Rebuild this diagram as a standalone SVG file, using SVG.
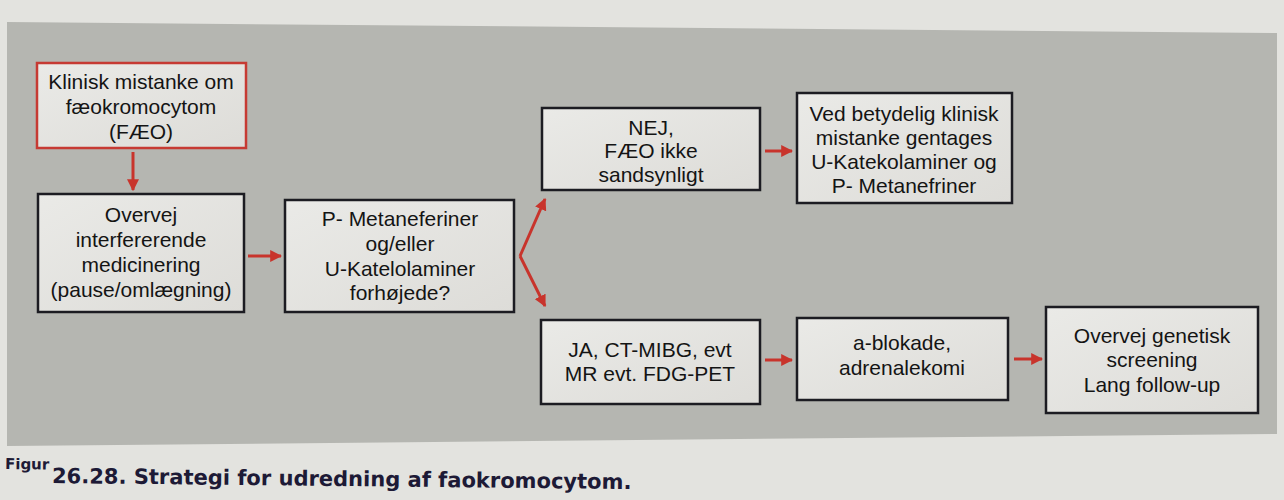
<svg xmlns="http://www.w3.org/2000/svg" width="1284" height="500" viewBox="0 0 1284 500">
<defs>
<marker id="ah" viewBox="0 0 10 10" refX="9" refY="5" markerWidth="4" markerHeight="4" orient="auto" markerUnits="strokeWidth">
<path d="M0,0 L10,5 L0,10 z" fill="#c8342c"/>
</marker>
<linearGradient id="boxfill" x1="0" y1="0" x2="1" y2="1">
<stop offset="0" stop-color="#eaeae7"/>
<stop offset="1" stop-color="#dddcd8"/>
</linearGradient>
</defs>
<style>
.box{fill:url(#boxfill);stroke:#1c1c22;stroke-width:2.5}
.rbox{fill:url(#boxfill);stroke:#c63a33;stroke-width:2.5}
.t{font-family:"Liberation Sans",Arial,sans-serif;font-size:21px;fill:#141414;text-anchor:middle}
.c{stroke:#c8342c;stroke-width:3;fill:none;marker-end:url(#ah)}
.cap{font-family:"DejaVu Sans","Liberation Sans",sans-serif;font-weight:bold;fill:#1d1a36}
</style>
<rect x="0" y="0" width="1284" height="500" fill="#e3e3df"/>
<polygon points="7,22 1277,33 1277,434 7,446" fill="#b5b6b1"/>

<g id="n1">
<rect class="rbox" x="37" y="63" width="209" height="85"/>
<text class="t" x="141" y="89">Klinisk mistanke om</text>
<text class="t" x="141" y="114">fæokromocytom</text>
<text class="t" x="141" y="139">(FÆO)</text>
</g>
<g id="n2">
<rect class="box" x="38" y="194" width="206" height="118"/>
<text class="t" x="141" y="222">Overvej</text>
<text class="t" x="141" y="247">interfererende</text>
<text class="t" x="141" y="272">medicinering</text>
<text class="t" x="141" y="297">(pause/omlægning)</text>
</g>
<g id="n3">
<rect class="box" x="285" y="200" width="229" height="112"/>
<text class="t" x="400" y="226">P- Metaneferiner</text>
<text class="t" x="400" y="251">og/eller</text>
<text class="t" x="400" y="276">U-Katelolaminer</text>
<text class="t" x="400" y="300">forhøjede?</text>
</g>
<g id="n4">
<rect class="box" x="542" y="108" width="218" height="82"/>
<text class="t" x="651" y="135">NEJ,</text>
<text class="t" x="651" y="158">FÆO ikke</text>
<text class="t" x="651" y="182">sandsynligt</text>
</g>
<g id="n5">
<rect class="box" x="797" y="93" width="215" height="110"/>
<text class="t" x="904" y="121">Ved betydelig klinisk</text>
<text class="t" x="904" y="145">mistanke gentages</text>
<text class="t" x="904" y="169">U-Katekolaminer og</text>
<text class="t" x="904" y="193">P- Metanefriner</text>
</g>
<g id="n6">
<rect class="box" x="541" y="320" width="219" height="84"/>
<text class="t" x="650" y="357">JA, CT-MIBG, evt</text>
<text class="t" x="650" y="381">MR evt. FDG-PET</text>
</g>
<g id="n7">
<rect class="box" x="797" y="318" width="211" height="82"/>
<text class="t" x="902" y="350">a-blokade,</text>
<text class="t" x="902" y="375">adrenalekomi</text>
</g>
<g id="n8">
<rect class="box" x="1046" y="307" width="212" height="106"/>
<text class="t" x="1152" y="343">Overvej genetisk</text>
<text class="t" x="1152" y="367">screening</text>
<text class="t" x="1152" y="392">Lang follow-up</text>
</g>

<g id="connectors">
<line class="c" x1="133" y1="152" x2="133" y2="190"/>
<line class="c" x1="248" y1="256" x2="281" y2="256"/>
<polyline class="c" points="520,256 545,199"/>
<polyline class="c" points="520,256 545,306"/>
<line class="c" x1="765" y1="151" x2="792" y2="151"/>
<line class="c" x1="765" y1="360" x2="792" y2="360"/>
<line class="c" x1="1014" y1="359" x2="1042" y2="359"/>
</g>

<text class="cap" x="5" y="469" font-size="15" transform="rotate(0.8 5 469)">Figur</text>
<text class="cap" x="52" y="483" font-size="21" transform="rotate(0.6 52 483)">26.28. Strategi for udredning af faokromocytom.</text>
</svg>
